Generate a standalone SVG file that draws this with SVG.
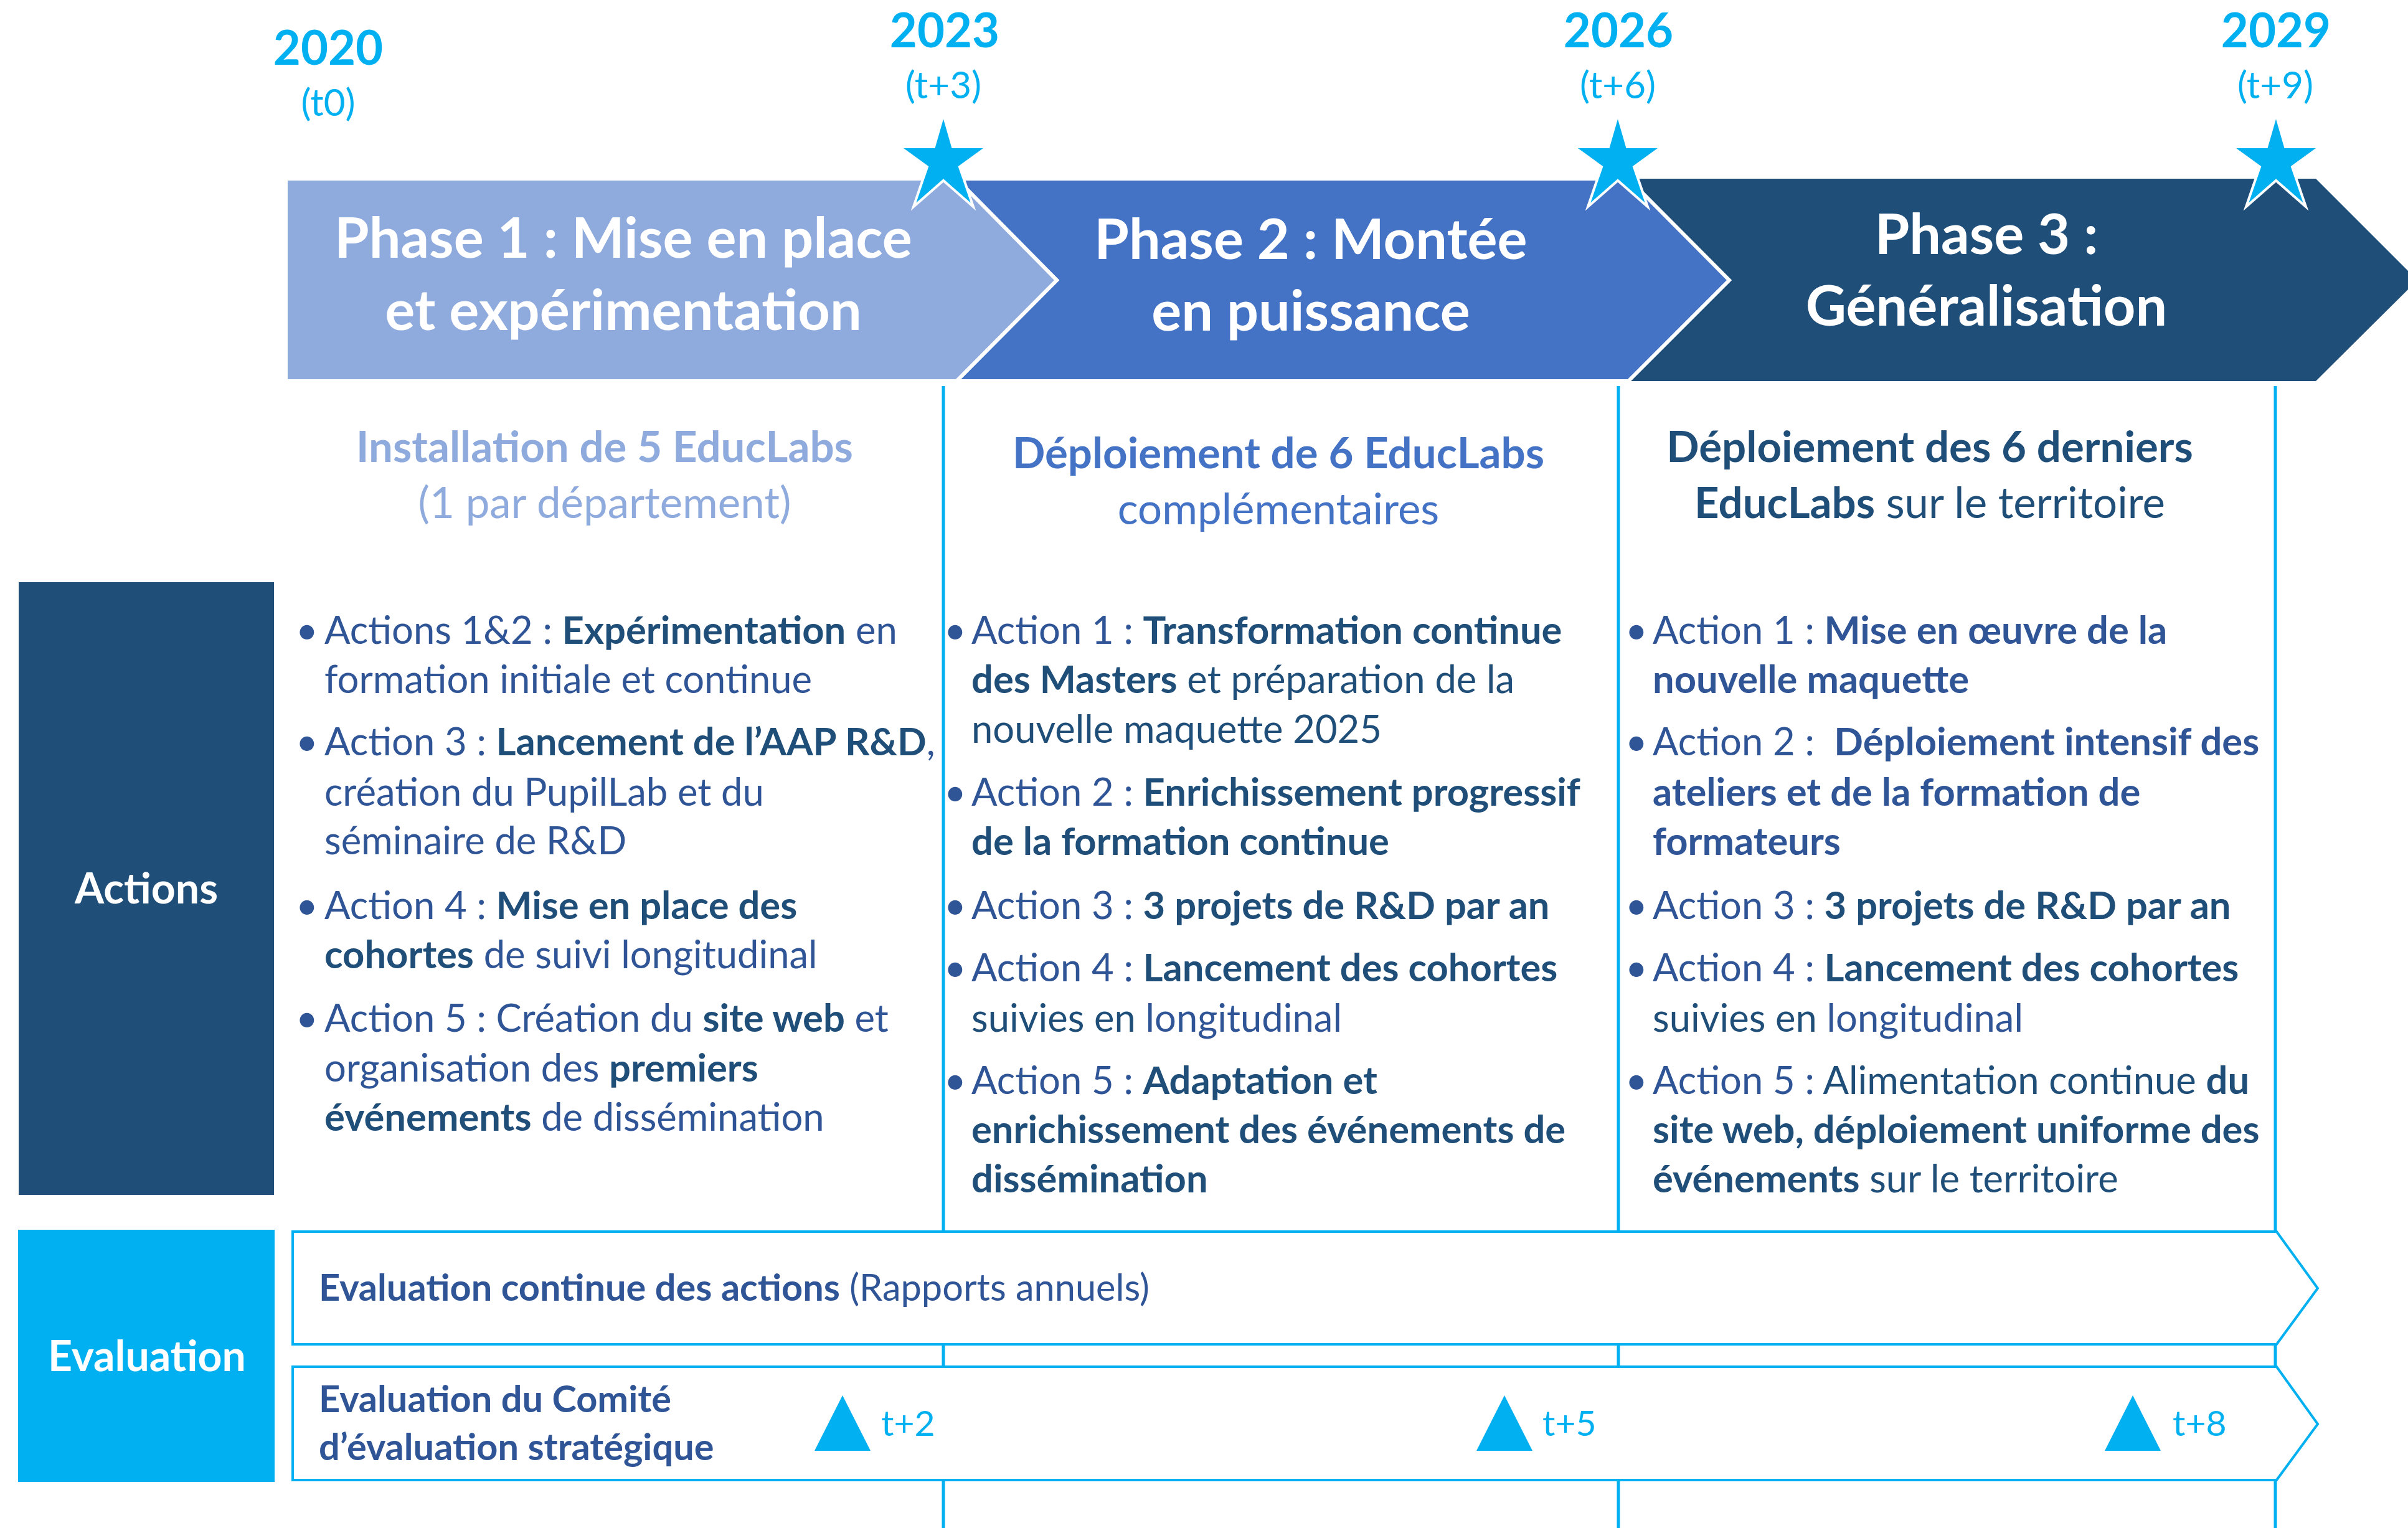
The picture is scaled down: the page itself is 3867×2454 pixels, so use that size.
<svg xmlns="http://www.w3.org/2000/svg" xmlns:xlink="http://www.w3.org/1999/xlink" width="3867" height="2454" viewBox="0 0 3867 2454">
<style>
text{font-family:Lato,"Liberation Sans",sans-serif}
.b{font-weight:700}
.R{fill:#2F5597}
.B{fill:#1F4E79}
.cy{fill:#00B0F0}
.yr{font-size:76px;font-weight:700;fill:#00B0F0;text-anchor:middle}
.tt{font-size:60px;fill:#00B0F0;text-anchor:middle}
.ph{font-size:90px;font-weight:700;fill:#FFFFFF;text-anchor:middle}
.hd{font-size:69px;text-anchor:middle}
.ac{font-size:61.5px}
.ev{font-size:59.5px}
.tl{font-size:57px;fill:#00B0F0}
.lbl{font-size:68px;font-weight:700;fill:#FFFFFF;text-anchor:middle}
.vline{stroke:#00B0F0;stroke-width:5}
.earrow{fill:#FFFFFF;stroke:#00B0F0;stroke-width:4}
.star{fill:#00B0F0;stroke:#FFFFFF;stroke-width:4}
</style>
<defs>
<polygon id="starShape" class="star" points="0,184 15,236 70,236 26,268 48,332 0,290 -48,332 -26,268 -70,236 -15,236"/>
<polygon id="tri" class="cy" points="0,2241 45,2330 -45,2330"/>
</defs>
<rect width="3867" height="2454" fill="#FFFFFF"/>

<g id="connectors">
<line class="vline" x1="1515" y1="620" x2="1515" y2="2454"/>
<line class="vline" x1="2599" y1="620" x2="2599" y2="2454"/>
<line class="vline" x1="3654" y1="620" x2="3654" y2="2454"/>
</g>

<g id="phase3">
<polygon points="2615,287 3719,287 3882,450 3719,612 2615,612 2777,450" fill="#1F4E79"/>
<text class="ph" x="3190" y="408">Phase 3 :</text>
<text class="ph" x="3190" y="523">Généralisation</text>
</g>
<g id="phase2">
<polygon points="1536,287 2615,287 2777,450 2615,612 1536,612 1697,450" fill="#4472C4" stroke="#FFFFFF" stroke-width="6"/>
<text class="ph" x="2105" y="416">Phase 2 : Montée</text>
<text class="ph" x="2105" y="531">en puissance</text>
</g>
<g id="phase1">
<polygon points="459,287 1536,287 1697,450 1536,612 459,612" fill="#8FAADC" stroke="#FFFFFF" stroke-width="6"/>
<text class="ph" x="1001" y="414">Phase 1 : Mise en place</text>
<text class="ph" x="1001" y="530">et expérimentation</text>
</g>

<g id="milestone-2020">
<text class="yr" x="527" y="104">2020</text>
<text class="tt" x="527" y="186">(t0)</text>
</g>
<g id="milestone-2023">
<text class="yr" x="1517" y="76">2023</text>
<text class="tt" x="1515" y="158">(t+3)</text>
<use xlink:href="#starShape" x="1515" y="0"/>
</g>
<g id="milestone-2026">
<text class="yr" x="2599" y="76">2026</text>
<text class="tt" x="2598" y="158">(t+6)</text>
<use xlink:href="#starShape" x="2598" y="0"/>
</g>
<g id="milestone-2029">
<text class="yr" x="3655" y="76">2029</text>
<text class="tt" x="3654" y="158">(t+9)</text>
<use xlink:href="#starShape" x="3655" y="0"/>
</g>

<g id="header-phase1">
<text class="hd b" x="971" y="742" fill="#8FAADC">Installation de 5 EducLabs</text>
<text class="hd" x="971" y="832" fill="#8FAADC">(1 par département)</text>
</g>
<g id="header-phase2">
<text class="hd b" x="2053" y="752" fill="#4472C4">Déploiement de 6 EducLabs</text>
<text class="hd" x="2053" y="842" fill="#4472C4">complémentaires</text>
</g>
<g id="header-phase3">
<text class="hd b" x="3099" y="742" fill="#1F4E79">Déploiement des 6 derniers</text>
<text class="hd" x="3099" y="832" fill="#1F4E79"><tspan class="b">EducLabs</tspan> sur le territoire</text>
</g>

<g id="actions-label">
<rect x="30" y="935" width="410" height="984" fill="#1F4E79"/>
<text class="lbl" x="235" y="1451">Actions</text>
</g>

<g id="actions-phase1" class="ac">
<text class="R" x="475" y="1034">•</text>
<text class="R" x="475" y="1213">•</text>
<text class="R" x="475" y="1476">•</text>
<text class="R" x="475" y="1657">•</text>
<text x="521" y="1034"><tspan class="R">Actions 1&amp;2 : </tspan><tspan class="B b">Expérimentation</tspan><tspan class="R"> en</tspan></text>
<text class="R" x="521" y="1113">formation initiale et continue</text>
<text x="521" y="1213"><tspan class="R">Action 3 : </tspan><tspan class="B b">Lancement de l’AAP R&amp;D</tspan><tspan class="R">,</tspan></text>
<text class="R" x="521" y="1294">création du PupilLab et du</text>
<text class="R" x="521" y="1372">séminaire de R&amp;D</text>
<text x="521" y="1476"><tspan class="R">Action 4 : </tspan><tspan class="B b">Mise en place des</tspan></text>
<text x="521" y="1555"><tspan class="B b">cohortes</tspan><tspan class="R"> de suivi longitudinal</tspan></text>
<text x="521" y="1657"><tspan class="R">Action 5 : Création du </tspan><tspan class="B b">site web</tspan><tspan class="R"> et</tspan></text>
<text x="521" y="1737"><tspan class="R">organisation des </tspan><tspan class="B b">premiers</tspan></text>
<text x="521" y="1816"><tspan class="B b">événements</tspan><tspan class="R"> de dissémination</tspan></text>
</g>

<g id="actions-phase2" class="ac">
<text class="R" x="1516" y="1034">•</text>
<text class="R" x="1516" y="1294">•</text>
<text class="R" x="1516" y="1476">•</text>
<text class="R" x="1516" y="1576">•</text>
<text class="R" x="1516" y="1757">•</text>
<text x="1560" y="1034"><tspan class="R">Action 1 : </tspan><tspan class="B b">Transformation continue</tspan></text>
<text x="1560" y="1113"><tspan class="B b">des Masters</tspan><tspan class="B"> et préparation de la</tspan></text>
<text class="B" x="1560" y="1193">nouvelle maquette 2025</text>
<text x="1560" y="1294"><tspan class="R">Action 2 : </tspan><tspan class="B b">Enrichissement progressif</tspan></text>
<text class="B b" x="1560" y="1373">de la formation continue</text>
<text x="1560" y="1476"><tspan class="R">Action 3 : </tspan><tspan class="B b">3 projets de R&amp;D par an</tspan></text>
<text x="1560" y="1576"><tspan class="R">Action 4 : </tspan><tspan class="B b">Lancement des cohortes</tspan></text>
<text x="1560" y="1657"><tspan class="B">suivies en </tspan><tspan class="R">longitudinal</tspan></text>
<text x="1560" y="1757"><tspan class="R">Action 5 : </tspan><tspan class="B b">Adaptation et</tspan></text>
<text class="B b" x="1560" y="1836">enrichissement des événements de</text>
<text class="B b" x="1560" y="1915">dissémination</text>
</g>

<g id="actions-phase3" class="ac">
<text class="R" x="2610" y="1034">•</text>
<text class="R" x="2610" y="1213">•</text>
<text class="R" x="2610" y="1476">•</text>
<text class="R" x="2610" y="1576">•</text>
<text class="R" x="2610" y="1757">•</text>
<text x="2654" y="1034"><tspan class="R">Action 1 : </tspan><tspan class="R b">Mise en œuvre de la</tspan></text>
<text class="R b" x="2654" y="1113">nouvelle maquette</text>
<text x="2654" y="1213" xml:space="preserve"><tspan class="R">Action 2 :  </tspan><tspan class="R b">Déploiement intensif des</tspan></text>
<text class="R b" x="2654" y="1294">ateliers et de la formation de</text>
<text class="R b" x="2654" y="1373">formateurs</text>
<text x="2654" y="1476"><tspan class="R">Action 3 : </tspan><tspan class="B b">3 projets de R&amp;D par an</tspan></text>
<text x="2654" y="1576"><tspan class="R">Action 4 : </tspan><tspan class="B b">Lancement des cohortes</tspan></text>
<text x="2654" y="1657"><tspan class="B">suivies en </tspan><tspan class="R">longitudinal</tspan></text>
<text x="2654" y="1757"><tspan class="R">Action 5 : </tspan><tspan class="B">Alimentation continue </tspan><tspan class="B b">du</tspan></text>
<text class="B b" x="2654" y="1836">site web, déploiement uniforme des</text>
<text x="2654" y="1915"><tspan class="B b">événements</tspan><tspan class="B"> sur le territoire</tspan></text>
</g>

<g id="evaluation-label">
<rect x="29" y="1975" width="412" height="405" fill="#00B0F0"/>
<text class="lbl" x="236" y="2202">Evaluation</text>
</g>

<g id="eval-continue">
<polygon class="earrow" points="470,1978 3656,1978 3722,2069 3656,2159 470,2159"/>
<text class="ev" x="512" y="2089"><tspan class="R b">Evaluation continue des actions</tspan><tspan class="R"> (Rapports annuels)</tspan></text>
</g>

<g id="eval-comite">
<polygon class="earrow" points="470,2195 3656,2195 3722,2287 3656,2377 470,2377"/>
<text class="ev R b" x="512" y="2268">Evaluation du Comité</text>
<text class="ev R b" x="512" y="2345">d’évaluation stratégique</text>
<use xlink:href="#tri" x="1353" y="0"/>
<text class="tl" x="1415" y="2306">t+2</text>
<use xlink:href="#tri" x="2416" y="0"/>
<text class="tl" x="2477" y="2306">t+5</text>
<use xlink:href="#tri" x="3425" y="0"/>
<text class="tl" x="3489" y="2306">t+8</text>
</g>
</svg>
